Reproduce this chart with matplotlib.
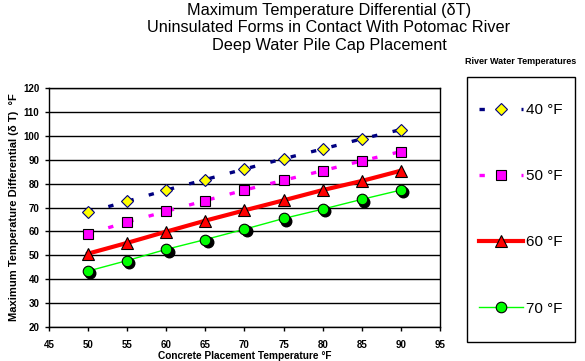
import matplotlib
matplotlib.use('Agg')
import matplotlib.pyplot as plt
import matplotlib.transforms as mtransforms
from matplotlib.lines import Line2D
from matplotlib.patches import Rectangle

plt.rcParams['font.family'] = ['Liberation Sans', 'DejaVu Sans']

# Data
placement_temp = [50, 55, 60, 65, 70, 75, 80, 85, 90]
dt_40 = [68, 72.6, 77.3, 81.7, 86.1, 90.4, 94.5, 98.7, 102.6]
dt_50 = [59, 63.9, 68.4, 72.9, 77.3, 81.4, 85.4, 89.5, 93.4]
dt_60 = [50.7, 55.2, 59.9, 64.5, 68.8, 73, 77.3, 81.1, 85.4]
dt_70 = [43.4, 47.8, 52.5, 56.6, 60.9, 65.4, 69.3, 73.4, 77.3]
series_labels = ['40 \u00b0F', '50 \u00b0F', '60 \u00b0F', '70 \u00b0F']
x_ticks = [45, 50, 55, 60, 65, 70, 75, 80, 85, 90, 95]
y_ticks = [20, 30, 40, 50, 60, 70, 80, 90, 100, 110, 120]

W, H = 585, 361
fig = plt.figure(figsize=(W / 100, H / 100), dpi=100)
fig.patch.set_facecolor('white')
ax = fig.add_axes([49 / W, 1 - 327 / H, 391 / W, 239 / H])

# Horizontal grid lines
for yv in y_ticks:
    ax.axhline(yv, color='black', linewidth=1, zorder=1)

dash = (1.6, 4.7)

# 40 F: dashed navy with yellow diamonds
ax.plot(placement_temp, dt_40, color='#000080', linewidth=2.4, dashes=dash, zorder=2)
ax.plot(placement_temp, dt_40, linestyle='none', marker='D', markersize=6.3,
        markerfacecolor='#ffff00', markeredgecolor='#000080', markeredgewidth=0.8, zorder=3)

# 50 F: dashed magenta with magenta squares
ax.plot(placement_temp, dt_50, color='#ff00ff', linewidth=2.4, dashes=dash, zorder=2)
ax.plot(placement_temp, dt_50, linestyle='none', marker='s', markersize=7.6,
        markerfacecolor='#ff00ff', markeredgecolor='black', markeredgewidth=0.8, zorder=3)

# 60 F: thick red line with red triangles
ax.plot(placement_temp, dt_60, color='#ff0000', linewidth=3, zorder=2)
ax.plot(placement_temp, dt_60, linestyle='none', marker='^', markersize=8.3,
        markerfacecolor='#ff0000', markeredgecolor='black', markeredgewidth=0.8, zorder=3)

# 70 F: thin green line with green circles (with shadow)
ax.plot(placement_temp, dt_70, color='#00ff00', linewidth=1, zorder=2)
shadow = mtransforms.offset_copy(ax.transData, fig=fig, x=2.2, y=-2.2, units='dots')
ax.plot(placement_temp, dt_70, linestyle='none', marker='o', markersize=7.6,
        markerfacecolor='black', markeredgecolor='black', transform=shadow, zorder=2.5)
ax.plot(placement_temp, dt_70, linestyle='none', marker='o', markersize=7.6,
        markerfacecolor='#00ff00', markeredgecolor='black', markeredgewidth=0.8, zorder=3)

ax.set_xlim(45, 95)
ax.set_ylim(20, 120)
ax.set_xticks(x_ticks)
ax.set_yticks(y_ticks)
ax.tick_params(direction='out', length=3, width=1, labelsize=7)
ax.tick_params(axis='x', pad=6)
ax.tick_params(axis='y', pad=4)
for lbl in ax.get_xticklabels() + ax.get_yticklabels():
    lbl.set_fontweight('bold')
for sp in ax.spines.values():
    sp.set_color('black')
    sp.set_linewidth(1)

ax.set_xlabel('Concrete Placement Temperature \u00b0F', fontsize=7.3, fontweight='bold', labelpad=1)
ax.set_ylabel('Maximum Temperature Differential (\u03b4 T)  \u00b0F', fontsize=8,
              fontweight='bold', labelpad=3)

fig.text(329 / W, 1 - 28 / H, 'Maximum Temperature Differential (\u03b4T)\n'
         'Uninsulated Forms in Contact With Potomac River\n'
         'Deep Water Pile Cap Placement',
         ha='center', va='center', fontsize=11.7, linespacing=1.18)

# Legend frame and entries
fig.patches.append(Rectangle((467 / W, 1 - 342 / H), 108 / W, 265 / H,
                             transform=fig.transFigure, facecolor='white',
                             edgecolor='black', linewidth=1))
handles = [
    Line2D([], [], color='#000080', linewidth=2.4, dashes=dash, marker='D', markersize=6.3,
           markerfacecolor='#ffff00', markeredgecolor='#000080', markeredgewidth=0.8),
    Line2D([], [], color='#ff00ff', linewidth=2.4, dashes=dash, marker='s', markersize=7.6,
           markerfacecolor='#ff00ff', markeredgecolor='black', markeredgewidth=0.8),
    Line2D([], [], color='#ff0000', linewidth=3, marker='^', markersize=8,
           markerfacecolor='#ff0000', markeredgecolor='black', markeredgewidth=0.8),
    Line2D([], [], color='#00ff00', linewidth=1, marker='o', markersize=7.6,
           markerfacecolor='#00ff00', markeredgecolor='black', markeredgewidth=0.8),
]
leg = fig.legend(handles, series_labels, loc='upper left',
                 bbox_to_anchor=(479 / W, 1 - 103 / H), fontsize=11,
                 labelspacing=3.42, handlelength=2.9, handletextpad=0.15,
                 borderpad=0, borderaxespad=0, frameon=False)
fig.text(521 / W, 1 - 61 / H, 'River Water Temperatures', ha='center', va='center',
         fontsize=6.5, fontweight='bold')

fig.savefig('out.png', dpi=100, facecolor='white')
